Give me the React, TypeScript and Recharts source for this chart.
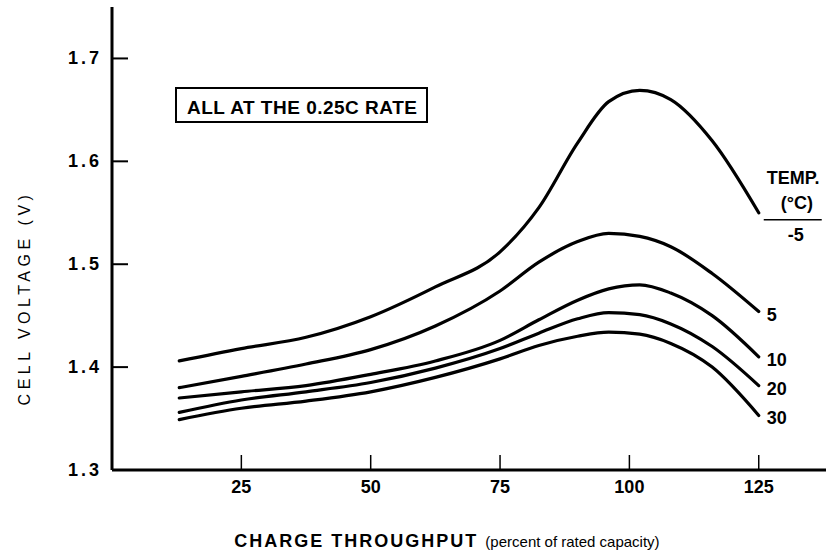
import React from 'react';
import { LineChart, Line, XAxis, YAxis, LabelList, Customized } from 'recharts';

const FONT = '"Liberation Sans", Arial, sans-serif';

// charge throughput, percent of rated capacity
const throughput = [13, 25, 37.5, 50, 62.5, 75, 82.5, 90, 96, 102, 108, 116, 125];

// cell voltage (V) per temperature
const tempMinus5 = [1.406, 1.418, 1.429, 1.449, 1.478, 1.512, 1.555, 1.618, 1.658, 1.669, 1.66, 1.62, 1.55];
const temp5 = [1.38, 1.391, 1.403, 1.417, 1.44, 1.474, 1.502, 1.522, 1.53, 1.527, 1.517, 1.491, 1.454];
const temp10 = [1.37, 1.376, 1.382, 1.393, 1.406, 1.426, 1.446, 1.465, 1.476, 1.48, 1.472, 1.45, 1.41];
const temp20 = [1.356, 1.368, 1.376, 1.385, 1.399, 1.418, 1.433, 1.447, 1.453, 1.451, 1.442, 1.42, 1.382];
const temp30 = [1.349, 1.36, 1.367, 1.376, 1.39, 1.408, 1.421, 1.43, 1.434, 1.432, 1.423, 1.4, 1.353];

const seriesKeys = ['m5', 't5', 't10', 't20', 't30'];
const curveLabels = ['-5', '5', '10', '20', '30'];

const xTicks = [25, 50, 75, 100, 125];
const yTicks = [1.3, 1.4, 1.5, 1.6, 1.7];

const data = throughput.map((x, i) => ({
  x,
  m5: tempMinus5[i],
  t5: temp5[i],
  t10: temp10[i],
  t20: temp20[i],
  t30: temp30[i],
}));

const YTick = (props: any) => {
  const { x, y, payload } = props;
  return (
    <g>
      {payload.value > 1.3 && <line x1={x} y1={y} x2={x + 16} y2={y} stroke="#000" strokeWidth={2} />}
      <text x={x - 10} y={y + 6} textAnchor="end" fontFamily={FONT} fontWeight="bold"
        fontSize={18} letterSpacing={3} fill="#000">
        {payload.value.toFixed(1)}
      </text>
    </g>
  );
};

const XTick = (props: any) => {
  const { x, y, payload } = props;
  return (
    <g>
      <line x1={x} y1={y} x2={x} y2={y - 15} stroke="#000" strokeWidth={1.5} />
      <text x={x} y={y + 23} textAnchor="middle" fontFamily={FONT} fontWeight="bold"
        fontSize={18} fill="#000">
        {payload.value}
      </text>
    </g>
  );
};

const endLabel = (text: string) => (props: any) => {
  const { x, y, index } = props;
  if (index !== throughput.length - 1) return null;
  if (text === '-5') {
    return (
      <g fontFamily={FONT} fontWeight="bold" fill="#000">
        <text x={x + 8} y={y - 29} fontSize={18}>TEMP.</text>
        <text x={x + 22} y={y - 4} fontSize={18}>(°C)</text>
        <line x1={x + 5} y1={y + 7} x2={x + 63} y2={y + 7} stroke="#000" strokeWidth={1.5} />
        <text x={x + 29} y={y + 28} fontSize={18}>-5</text>
      </g>
    );
  }
  return (
    <text x={x + 8} y={y + 9} fontFamily={FONT} fontWeight="bold" fontSize={18} fill="#000">
      {text}
    </text>
  );
};

const Annotations = () => (
  <g fontFamily={FONT} fill="#000">
    <rect x={176} y={88} width={251} height={34} fill="none" stroke="#000" strokeWidth={2} />
    <text x={187} y={114} fontSize={19} fontWeight="bold" letterSpacing={0.5}>ALL AT THE 0.25C RATE</text>
    <text x={24} y={298} fontSize={16} textAnchor="middle" letterSpacing={4.5}
      transform="rotate(-90 24 298)" dominantBaseline="central">
      CELL VOLTAGE (V)
    </text>
    <text x={447} y={547} textAnchor="middle">
      <tspan fontSize={18} fontWeight="bold" letterSpacing={2}>CHARGE THROUGHPUT </tspan>
      <tspan fontSize={15}>(percent of rated capacity)</tspan>
    </text>
  </g>
);

export default function App() {
  return (
    <div style={{ position: 'absolute', left: 0, top: 0, background: '#fff' }}>
      <LineChart width={826} height={560} data={data}
        margin={{ top: 7, right: 0, bottom: 60, left: 52 }}>
        <XAxis dataKey="x" type="number" domain={[0, 138]} ticks={xTicks} height={30}
          tickSize={0} tickMargin={0} tick={<XTick />} axisLine={{ stroke: '#000', strokeWidth: 3 }}
          allowDataOverflow />
        <YAxis type="number" domain={[1.3, 1.75]} ticks={yTicks} width={60}
          tickSize={0} tickMargin={0} tick={<YTick />} axisLine={{ stroke: '#000', strokeWidth: 3 }}
          allowDataOverflow />
        {seriesKeys.map((k, i) => (
          <Line key={k} dataKey={k} type="monotone" stroke="#000" strokeWidth={3.2}
            strokeLinecap="round" dot={false} isAnimationActive={false}>
            <LabelList dataKey={k} content={endLabel(curveLabels[i])} />
          </Line>
        ))}
        <Customized component={Annotations} />
      </LineChart>
    </div>
  );
}
